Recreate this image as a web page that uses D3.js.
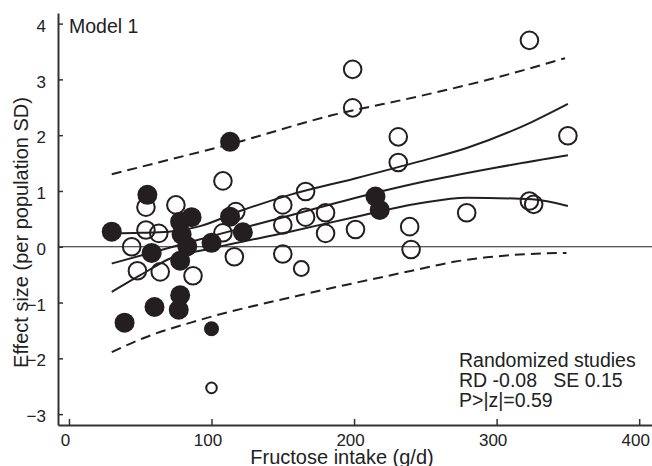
<!DOCTYPE html>
<html>
<head>
<meta charset="utf-8">
<script src="https://cdn.jsdelivr.net/npm/d3@7/dist/d3.min.js"></script>
<style>
  html, body { margin: 0; padding: 0; background: #fff; }
  svg { display: block; font-family: "Liberation Sans", Arial, Helvetica, sans-serif; }
</style>
</head>
<body>
<svg id="chart" width="652" height="466"></svg>
<script>
// ---- Data ----
const xTicks = [0, 100, 200, 300, 400];
const yTicks = [-3, -2, -1, 0, 1, 2, 3, 4];

// Open circles (fructose intake g/d, effect size, relative size)
const openX = [323, 199, 199, 231, 231, 350, 108, 166, 54, 75, 150, 117, 150, 166, 180, 180, 201, 239, 240, 279, 323, 326, 108, 116, 150, 163, 87, 44, 54, 63, 48, 64, 100];
const openY = [3.70, 3.18, 2.49, 1.97, 1.51, 1.99, 1.18, 0.99, 0.71, 0.75, 0.75, 0.63, 0.39, 0.53, 0.61, 0.24, 0.31, 0.36, -0.05, 0.61, 0.82, 0.76, 0.25, -0.18, -0.13, -0.39, -0.52, 0.0, 0.30, 0.24, -0.43, -0.45, -2.53];
const openS = [1, 1, 1, 1, 1, 1, 1, 1, 1, 1, 1, 1, 1, 1, 1, 1, 1, 1, 1, 1, 1, 1, 1, 1, 1, 0.85, 1, 1, 1, 1, 1, 1, 0.6];

// Filled circles
const filledX = [30, 55, 39, 60, 78, 77, 78, 58, 78, 86, 79, 83, 100, 113, 122, 113, 215, 218, 100];
const filledY = [0.27, 0.93, -1.36, -1.08, -0.87, -1.13, -0.25, -0.11, 0.45, 0.53, 0.22, 0.01, 0.07, 0.54, 0.26, 1.88, 0.90, 0.66, -1.47];
const filledS = [1, 1, 1, 1, 1, 1, 1, 1, 1, 1, 1, 1, 1, 1, 1, 1, 1, 1, 0.75];

// Fitted line and confidence / prediction bands
const fitX = [30, 73, 100, 155, 200, 246, 300, 350];
const fitY = [-0.30, 0.0, 0.19, 0.56, 0.87, 1.15, 1.42, 1.64];
const ciUpX = [30, 50, 70, 92, 120, 155, 200, 246, 279, 325, 350];
const ciUpY = [0.24, 0.25, 0.27, 0.37, 0.64, 0.93, 1.22, 1.53, 1.77, 2.24, 2.56];
const ciLoX = [30, 50, 71, 100, 155, 200, 246, 279, 325, 350];
const ciLoY = [-0.81, -0.51, -0.21, -0.03, 0.27, 0.53, 0.78, 0.88, 0.85, 0.73];
const piUpX = [30, 92, 106, 185, 246, 298, 348];
const piUpY = [1.30, 1.70, 1.79, 2.36, 2.70, 3.02, 3.38];
const piLoX = [30, 52, 92, 162, 246, 270, 293, 316, 349];
const piLoY = [-1.89, -1.64, -1.31, -0.87, -0.40, -0.27, -0.19, -0.14, -0.11];

// ---- Chart ----
const svg = d3.select("#chart");
const ink = "#231f20";

const x = d3.scaleLinear().domain([-7.7, 409]).range([58, 652]);
const y = d3.scaleLinear().domain([-3.195, 4.19]).range([425, 13]);

// zero reference line
svg.append("line")
  .attr("x1", x.range()[0]).attr("x2", x.range()[1])
  .attr("y1", y(0)).attr("y2", y(0))
  .attr("stroke", ink).attr("stroke-width", 1.1);

// axes
const yAxis = d3.axisLeft(y).tickValues(yTicks).tickSizeInner(-5).tickSizeOuter(0).tickFormat(d3.format("d"));
const gy = svg.append("g").attr("transform", `translate(${x.range()[0]},0)`).call(yAxis);
gy.select(".domain").attr("stroke", "#333").attr("stroke-width", 2);
gy.selectAll(".tick line").attr("stroke", "#333").attr("stroke-width", 1.5);
gy.selectAll(".tick text")
  .attr("x", -12).attr("dy", "0.45em")
  .attr("fill", "#222").style("font-size", "17px").style("font-family", "inherit");

const xAxis = d3.axisBottom(x).tickValues(xTicks).tickSizeInner(-6).tickSizeOuter(0).tickFormat(d3.format("d"));
const gx = svg.append("g").attr("transform", `translate(0,${y.range()[0]})`).call(xAxis);
gx.select(".domain").attr("stroke", "#333").attr("stroke-width", 2);
gx.selectAll(".tick line").attr("stroke", "#333").attr("stroke-width", 1.5);
gx.selectAll(".tick text")
  .attr("y", 21).attr("dx", -4).attr("dy", 0)
  .attr("fill", "#222").style("font-size", "17px").style("font-family", "inherit");

// lines
const line = d3.line().x(d => x(d[0])).y(d => y(d[1])).curve(d3.curveMonotoneX);
function drawLine(xs, ys, dashed) {
  svg.append("path")
    .datum(xs.map((v, i) => [v, ys[i]]))
    .attr("d", line)
    .attr("fill", "none")
    .attr("stroke", ink)
    .attr("stroke-width", 2)
    .attr("stroke-dasharray", dashed ? "10,6" : null);
}
drawLine(piUpX, piUpY, true);
drawLine(piLoX, piLoY, true);
drawLine(ciUpX, ciUpY, false);
drawLine(ciLoX, ciLoY, false);
drawLine(fitX, fitY, false);

// circles
const baseR = 8.8;
svg.append("g").selectAll("circle")
  .data(openX.map((v, i) => ({x: v, y: openY[i], s: openS[i]})))
  .join("circle")
  .attr("cx", d => x(d.x)).attr("cy", d => y(d.y))
  .attr("r", d => baseR * d.s)
  .attr("fill", "none").attr("stroke", ink).attr("stroke-width", 2);

svg.append("g").selectAll("circle")
  .data(filledX.map((v, i) => ({x: v, y: filledY[i], s: filledS[i]})))
  .join("circle")
  .attr("cx", d => x(d.x)).attr("cy", d => y(d.y))
  .attr("r", d => 10 * d.s)
  .attr("fill", ink).attr("stroke", "none");

// texts
svg.append("text").attr("x", 69).attr("y", 33)
  .attr("fill", "#222").style("font-size", "19.5px").text("Model 1");

svg.append("text")
  .attr("transform", "translate(28,232.5) rotate(-90)")
  .attr("text-anchor", "middle")
  .attr("fill", "#222").style("font-size", "20px")
  .text("Effect size (per population SD)");

svg.append("text")
  .attr("x", 342).attr("y", 464)
  .attr("text-anchor", "middle")
  .attr("fill", "#222").style("font-size", "20px")
  .text("Fructose intake (g/d)");

const notes = ["Randomized studies", "RD -0.08   SE 0.15", "P>|z|=0.59"];
svg.append("g").selectAll("text")
  .data(notes)
  .join("text")
  .attr("x", 459).attr("y", (d, i) => 367 + i * 20)
  .attr("fill", "#222").style("font-size", "19.5px")
  .style("white-space", "pre").attr("xml:space", "preserve")
  .text(d => d);
</script>
</body>
</html>
